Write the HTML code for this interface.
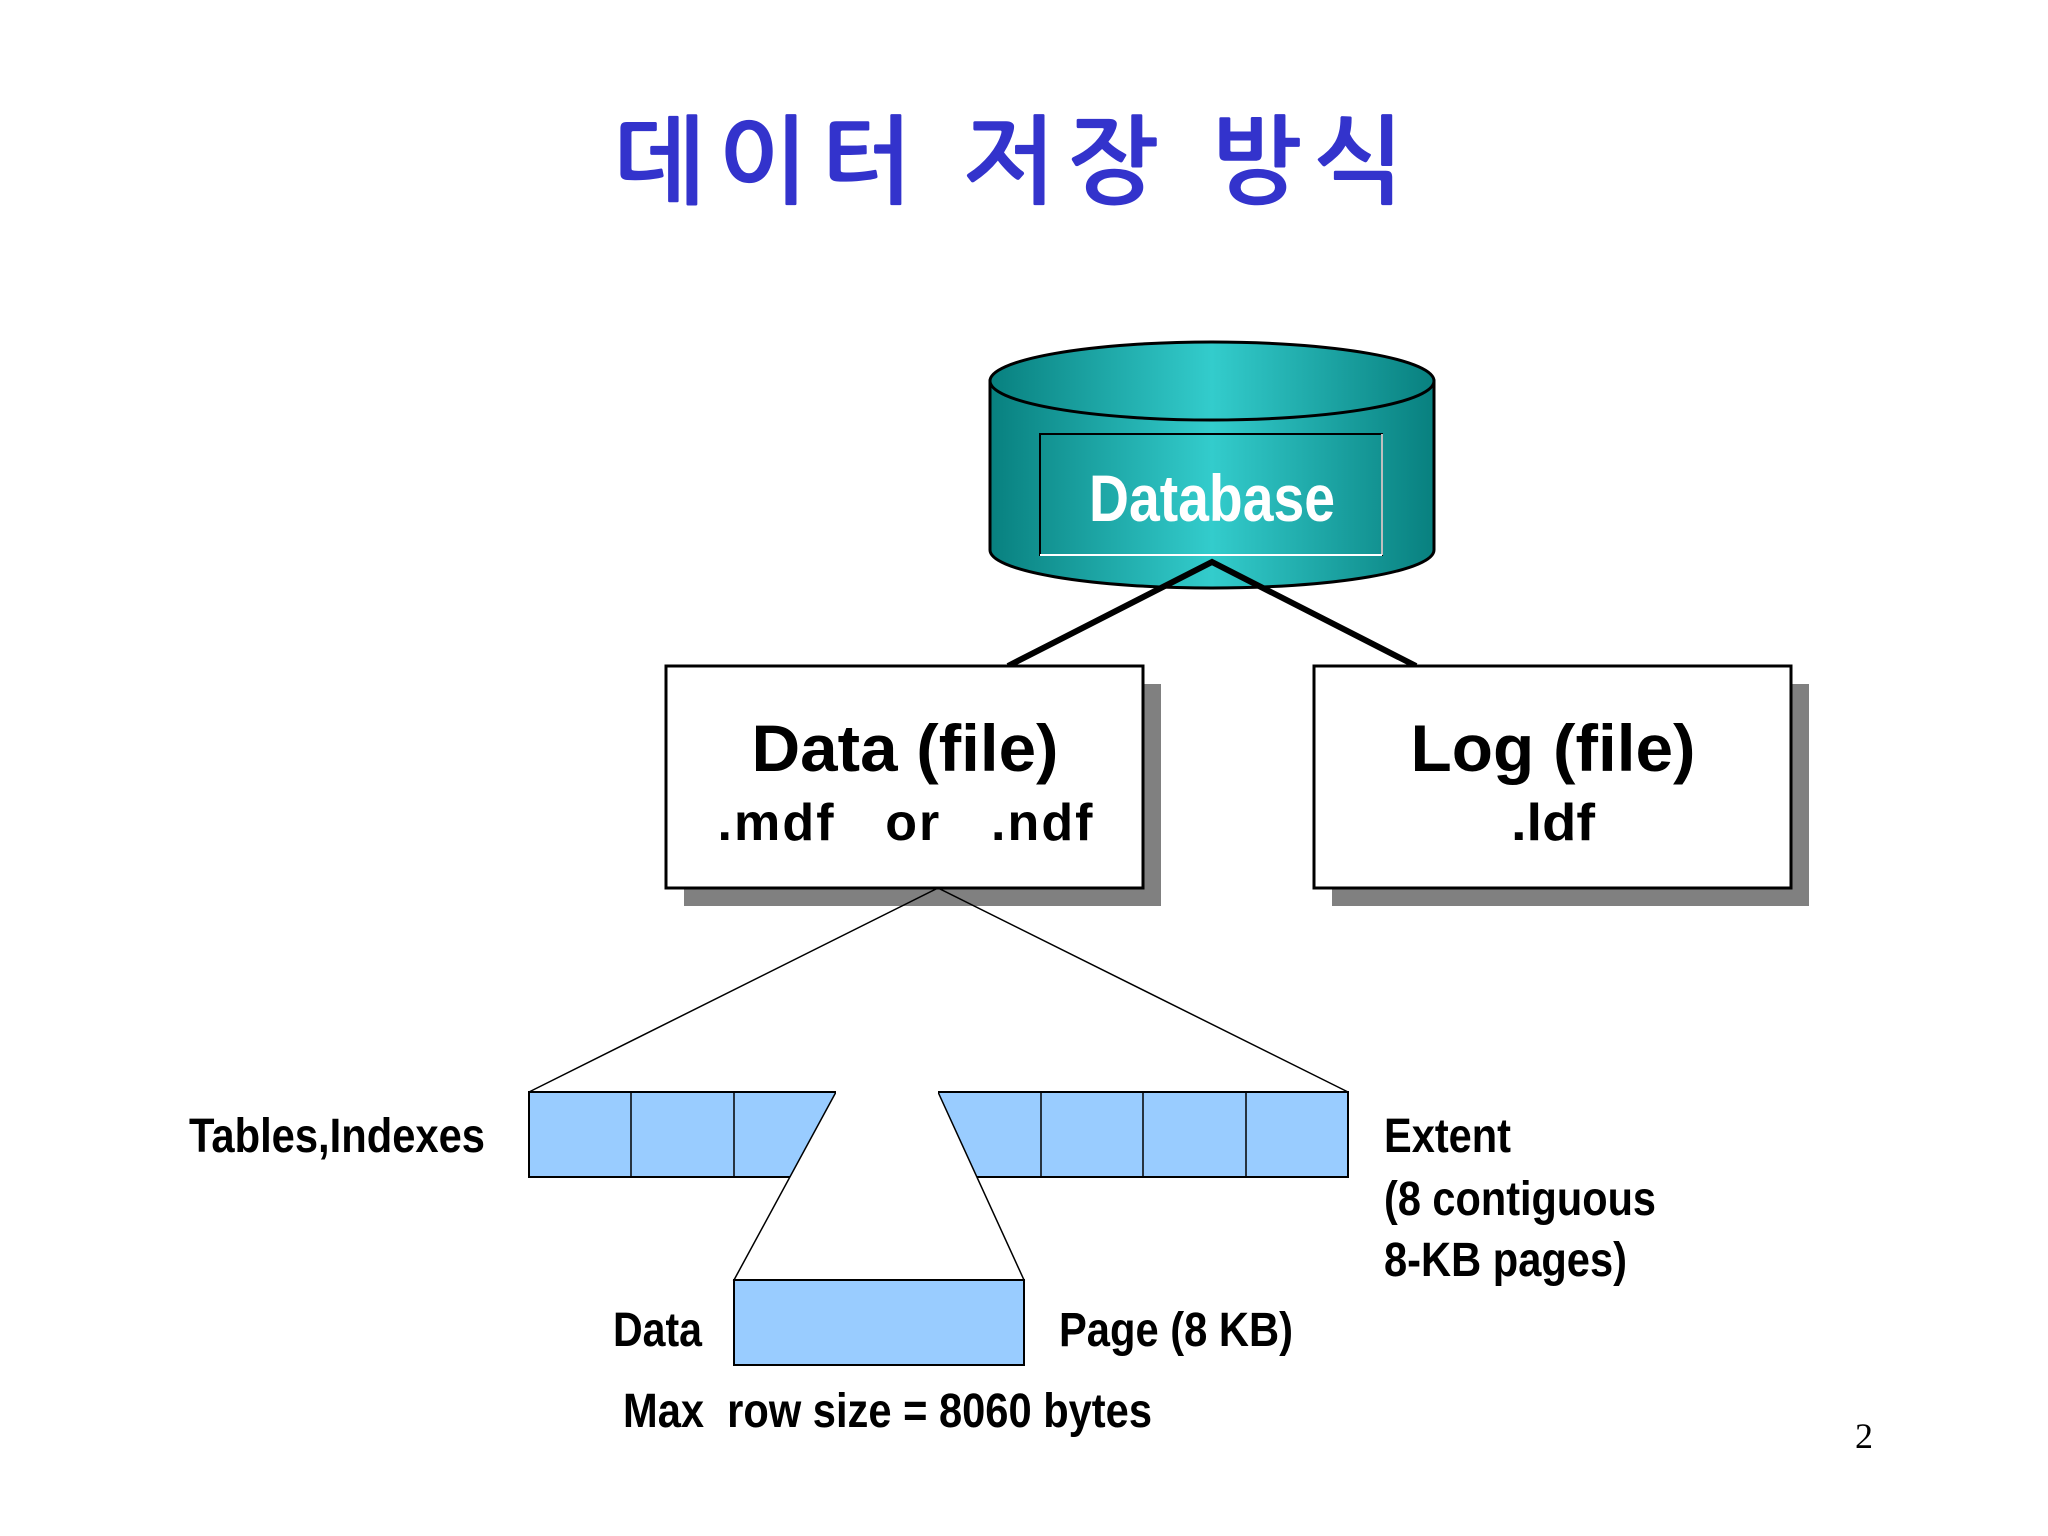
<!DOCTYPE html>
<html><head><meta charset="utf-8"><style>html,body{margin:0;padding:0;background:#fff}svg{display:block}</style></head>
<body>
<svg width="2048" height="1536" viewBox="0 0 2048 1536" xmlns="http://www.w3.org/2000/svg">
<defs>
<linearGradient id="cyl" x1="0" x2="1" y1="0" y2="0">
<stop offset="0" stop-color="#08807f"/><stop offset="0.5" stop-color="#33cccc"/><stop offset="1" stop-color="#08807f"/>
</linearGradient>
</defs>
<rect width="2048" height="1536" fill="#fff"/>
<text x="1009" y="195" font-family="'Liberation Sans','NanumGothic','Noto Sans CJK KR',sans-serif" font-weight="bold" font-size="96" fill="#3333cc" text-anchor="middle" textLength="790" lengthAdjust="spacing">데이터 저장 방식</text>

<path d="M990 381 L990 550 A222 38 0 0 0 1434 550 L1434 381 Z" fill="url(#cyl)" stroke="#000" stroke-width="3"/>
<ellipse cx="1212" cy="381" rx="222" ry="39" fill="url(#cyl)" stroke="#000" stroke-width="3"/>
<rect x="1040" y="434" width="342" height="121" fill="none" stroke="#000" stroke-width="2"/>
<line x1="1040" y1="555" x2="1382" y2="555" stroke="#fff" stroke-width="2"/>
<line x1="1382" y1="434" x2="1382" y2="555" stroke="#fff" stroke-width="1.5"/>
<text x="1212" y="521" font-family="'Liberation Sans Narrow','Liberation Sans',sans-serif" font-weight="bold" font-size="66" fill="#fff" text-anchor="middle" textLength="246" lengthAdjust="spacingAndGlyphs">Database</text>

<polyline points="1008,666 1212,562 1416,666" fill="none" stroke="#000" stroke-width="6"/>

<rect x="684" y="684" width="477" height="222" fill="#808080"/>
<rect x="666" y="666" width="477" height="222" fill="#fff" stroke="#000" stroke-width="3"/>
<rect x="1332" y="684" width="477" height="222" fill="#808080"/>
<rect x="1314" y="666" width="477" height="222" fill="#fff" stroke="#000" stroke-width="3"/>
<text x="905" y="771" font-family="'Liberation Sans',sans-serif" font-weight="bold" font-size="66" text-anchor="middle" textLength="307" lengthAdjust="spacingAndGlyphs">Data (file)</text>
<text x="905" y="840" font-family="'Liberation Sans',sans-serif" font-weight="bold" font-size="52" text-anchor="middle" textLength="375" lengthAdjust="spacing" xml:space="preserve">.mdf   or   .ndf</text>
<text x="1553" y="771" font-family="'Liberation Sans',sans-serif" font-weight="bold" font-size="66" text-anchor="middle" textLength="285" lengthAdjust="spacingAndGlyphs">Log (file)</text>
<text x="1553" y="840" font-family="'Liberation Sans',sans-serif" font-weight="bold" font-size="52" text-anchor="middle" textLength="84" lengthAdjust="spacingAndGlyphs">.ldf</text>

<polyline points="529,1092 938,888 1348,1092" fill="none" stroke="#000" stroke-width="1.5"/>
<rect x="529" y="1092" width="819" height="85" fill="#99ccff" stroke="#000" stroke-width="2"/>
<g stroke="#000" stroke-width="1.5">
<line x1="631" y1="1092" x2="631" y2="1177"/><line x1="734" y1="1092" x2="734" y2="1177"/>
<line x1="836" y1="1092" x2="836" y2="1177"/><line x1="938" y1="1092" x2="938" y2="1177"/>
<line x1="1041" y1="1092" x2="1041" y2="1177"/><line x1="1143" y1="1092" x2="1143" y2="1177"/>
<line x1="1246" y1="1092" x2="1246" y2="1177"/>
</g>
<polygon points="836,1092 938,1092 1024,1280 734,1280" fill="#fff" stroke="#000" stroke-width="1.5"/>
<line x1="836" y1="1092" x2="938" y2="1092" stroke="#fff" stroke-width="3"/>
<rect x="734" y="1280" width="290" height="85" fill="#99ccff" stroke="#000" stroke-width="2"/>

<g font-family="'Liberation Sans Narrow','Liberation Sans',sans-serif" font-weight="bold" font-size="48" fill="#000">
<text x="189" y="1152" textLength="296" lengthAdjust="spacingAndGlyphs">Tables,Indexes</text>
<text x="1384" y="1152" textLength="127" lengthAdjust="spacingAndGlyphs">Extent</text>
<text x="1384" y="1215" textLength="272" lengthAdjust="spacingAndGlyphs">(8 contiguous</text>
<text x="1384" y="1276" textLength="243" lengthAdjust="spacingAndGlyphs">8-KB pages)</text>
<text x="613" y="1346" textLength="89" lengthAdjust="spacingAndGlyphs">Data</text>
<text x="1059" y="1346" textLength="234" lengthAdjust="spacingAndGlyphs">Page (8 KB)</text>
<text x="623" y="1427" textLength="529" lengthAdjust="spacingAndGlyphs" xml:space="preserve">Max  row size = 8060 bytes</text>
</g>
<text x="1864" y="1448" font-family="'Liberation Serif',serif" font-size="36" text-anchor="middle">2</text>
</svg>
</body></html>
